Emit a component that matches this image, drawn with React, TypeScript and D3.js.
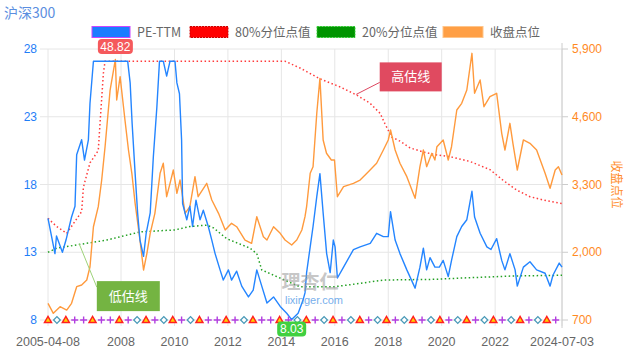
import React from 'react'
import * as d3 from 'd3'

// ---- data ----
const peData: [string, number][] = [
  ['2005-04-08', 15.5], ['2005-07-12', 12.9], ['2005-08-02', 14.2], ['2005-10-22', 13.0],
  ['2005-12-10', 13.9], ['2006-02-24', 15.6], ['2006-04-12', 16.4], ['2006-05-05', 20.2],
  ['2006-07-12', 21.3], ['2006-08-20', 19.8], ['2006-10-12', 21.3], ['2006-11-03', 24.0],
  ['2006-12-20', 27.5], ['2007-03-15', 33.0], ['2007-06-15', 40.0], ['2007-10-16', 48.82],
  ['2008-01-15', 42.0], ['2008-04-01', 27.5], ['2008-05-05', 25.5], ['2008-06-01', 22.5],
  ['2008-07-12', 18.8], ['2008-08-15', 15.9], ['2008-09-16', 13.9], ['2008-11-04', 12.7],
  ['2008-12-10', 14.4], ['2009-02-03', 15.9], ['2009-03-18', 20.05], ['2009-05-05', 23.7],
  ['2009-06-10', 27.4], ['2009-08-01', 28.5], ['2009-09-16', 26.0], ['2009-11-01', 28.2],
  ['2010-01-08', 27.8], ['2010-02-03', 25.5], ['2010-03-10', 24.7], ['2010-04-08', 21.3],
  ['2010-04-22', 16.6], ['2010-06-18', 15.4], ['2010-07-30', 16.4], ['2010-09-05', 14.9],
  ['2010-10-22', 16.85], ['2010-12-16', 15.4], ['2011-01-30', 16.1], ['2011-04-08', 14.9],
  ['2011-05-26', 13.9], ['2011-07-10', 12.9], ['2011-09-16', 11.7], ['2011-10-30', 10.95],
  ['2012-01-08', 11.7], ['2012-02-20', 10.95], ['2012-04-30', 11.6], ['2012-07-08', 10.5],
  ['2012-10-08', 9.7], ['2012-12-12', 10.2], ['2013-01-30', 11.7], ['2013-04-08', 10.5],
  ['2013-06-18', 9.25], ['2013-09-16', 9.7], ['2013-12-16', 9.0], ['2014-03-15', 8.5],
  ['2014-05-22', 8.03], ['2014-08-18', 8.5], ['2014-10-26', 9.5], ['2014-11-20', 10.0],
  ['2014-12-12', 11.5], ['2015-01-30', 13.4], ['2015-03-10', 14.9], ['2015-04-30', 17.1],
  ['2015-06-12', 18.8], ['2015-07-26', 15.9], ['2015-09-12', 12.9], ['2015-10-30', 11.5],
  ['2015-12-12', 13.9], ['2016-01-05', 13.4], ['2016-02-06', 11.1], ['2016-04-30', 11.9],
  ['2016-09-12', 13.2], ['2016-12-12', 13.4], ['2017-04-30', 13.65], ['2017-07-26', 14.4],
  ['2017-10-26', 14.15], ['2018-01-01', 14.15], ['2018-02-01', 16.0], ['2018-04-05', 13.9],
  ['2018-06-10', 12.9], ['2018-09-12', 11.7], ['2019-01-03', 10.35], ['2019-03-10', 11.9],
  ['2019-04-26', 13.3], ['2019-06-10', 11.7], ['2019-07-26', 12.6], ['2019-10-01', 11.9],
  ['2019-12-01', 11.9], ['2020-01-22', 12.4], ['2020-03-31', 11.2], ['2020-05-15', 12.4],
  ['2020-07-26', 14.15], ['2020-10-01', 14.9], ['2020-12-10', 15.4], ['2021-02-18', 17.5],
  ['2021-03-26', 15.6], ['2021-06-10', 14.4], ['2021-09-10', 13.4], ['2021-11-05', 13.2],
  ['2022-01-22', 14.0], ['2022-04-01', 12.4], ['2022-05-15', 11.7], ['2022-07-22', 12.9],
  ['2022-10-01', 11.7], ['2022-10-31', 10.5], ['2023-01-22', 11.9], ['2023-04-22', 12.3],
  ['2023-07-22', 11.7], ['2023-11-15', 11.45], ['2024-01-22', 10.5], ['2024-03-01', 11.3],
  ['2024-05-26', 12.2], ['2024-07-03', 11.9]
]

const closeData: [string, number][] = [
  ['2005-04-08', 1020], ['2005-06-20', 828], ['2005-09-20', 955], ['2005-12-20', 891],
  ['2006-02-24', 1020], ['2006-05-05', 1339], ['2006-07-12', 1371], ['2006-09-20', 1467],
  ['2006-11-03', 1722], ['2006-12-20', 2490], ['2007-02-24', 2874], ['2007-04-12', 3386],
  ['2007-05-28', 4025], ['2007-08-05', 5113], ['2007-10-16', 5700], ['2007-11-03', 4921],
  ['2007-12-20', 5368], ['2008-02-24', 4537], ['2008-04-12', 3962], ['2008-05-28', 3515],
  ['2008-07-12', 2939], ['2008-09-16', 2235], ['2008-11-04', 1659], ['2008-12-20', 1980],
  ['2009-02-03', 2363], ['2009-04-08', 2747], ['2009-06-18', 3515], ['2009-08-01', 3707],
  ['2009-09-16', 3066], ['2009-11-01', 3322], ['2009-12-16', 3578], ['2010-02-03', 3131],
  ['2010-03-18', 3386], ['2010-05-26', 2747], ['2010-07-30', 2874], ['2010-10-08', 3450],
  ['2010-11-20', 3066], ['2011-03-18', 3322], ['2011-05-26', 3002], ['2011-08-26', 2747],
  ['2011-11-25', 2427], ['2012-02-20', 2555], ['2012-04-30', 2490], ['2012-08-22', 2235],
  ['2012-11-20', 2171], ['2013-01-30', 2682], ['2013-04-30', 2299], ['2013-06-18', 2235],
  ['2013-09-16', 2490], ['2013-12-16', 2363], ['2014-02-20', 2235], ['2014-05-22', 2139],
  ['2014-07-30', 2235], ['2014-10-08', 2427], ['2014-11-20', 2682], ['2014-12-12', 2874],
  ['2015-01-30', 3515], ['2015-03-10', 3642], ['2015-04-30', 4666], ['2015-06-12', 5337],
  ['2015-07-26', 4154], ['2015-09-10', 3899], ['2015-11-15', 3770], ['2015-12-28', 3770],
  ['2016-02-06', 3066], ['2016-04-30', 3258], ['2016-09-12', 3322], ['2016-12-12', 3386],
  ['2017-03-15', 3515], ['2017-07-26', 3707], ['2017-10-26', 3962], ['2018-01-01', 4154],
  ['2018-02-01', 4346], ['2018-04-05', 3962], ['2018-06-10', 3707], ['2018-09-12', 3450],
  ['2019-01-03', 3035], ['2019-03-10', 3642], ['2019-04-26', 3962], ['2019-06-10', 3642],
  ['2019-08-20', 3899], ['2019-10-01', 3770], ['2019-10-28', 4025], ['2020-01-22', 4154],
  ['2020-03-31', 3770], ['2020-05-15', 4025], ['2020-07-26', 4730], ['2020-10-01', 4858],
  ['2020-12-10', 5113], ['2021-02-18', 5817], ['2021-03-26', 5050], ['2021-06-10', 5305],
  ['2021-08-01', 4793], ['2021-10-22', 4985], ['2022-01-22', 5050], ['2022-04-01', 4282],
  ['2022-05-15', 3962], ['2022-07-22', 4474], ['2022-09-01', 4090], ['2022-10-31', 3578],
  ['2023-01-22', 4154], ['2023-04-22', 4090], ['2023-07-22', 3962], ['2023-11-15', 3515],
  ['2024-01-22', 3227], ['2024-04-01', 3578], ['2024-05-15', 3642], ['2024-07-03', 3482]
]

const p80Data: [string, number][] = [
  ['2005-04-08', 15.5], ['2005-08-05', 14.9], ['2005-12-20', 14.4], ['2006-03-20', 15.1],
  ['2006-07-12', 16.0], ['2006-08-05', 17.8], ['2006-11-03', 19.6], ['2007-02-24', 20.5],
  ['2007-03-20', 22.5], ['2007-05-05', 26.2], ['2007-05-28', 27.1], ['2014-02-20', 27.1],
  ['2014-09-12', 26.6], ['2015-06-12', 25.8], ['2016-03-15', 25.2], ['2016-10-26', 24.6],
  ['2017-04-26', 24.0], ['2017-09-12', 23.25], ['2017-11-15', 22.5], ['2018-02-18', 21.5],
  ['2018-06-10', 21.2], ['2018-10-26', 20.7], ['2019-04-26', 20.4], ['2019-10-01', 20.2],
  ['2020-04-26', 20.05], ['2021-01-22', 19.7], ['2021-10-22', 19.1], ['2022-04-22', 18.3],
  ['2022-10-20', 17.6], ['2023-04-22', 17.1], ['2023-12-05', 16.8], ['2024-07-03', 16.6]
]

const p20Data: [string, number][] = [
  ['2005-04-08', 13.0], ['2005-08-05', 13.3], ['2006-03-20', 13.5], ['2007-06-20', 13.9],
  ['2008-09-16', 14.5], ['2010-01-08', 14.65], ['2010-07-30', 14.9], ['2011-03-18', 15.0],
  ['2011-06-18', 14.8], ['2011-12-16', 14.0], ['2012-10-30', 13.3], ['2013-01-30', 12.9],
  ['2013-04-08', 11.7], ['2013-10-30', 11.2], ['2014-09-12', 10.45], ['2015-12-12', 10.45],
  ['2016-07-26', 10.6], ['2017-10-26', 10.95], ['2019-09-10', 11.0], ['2020-10-20', 11.1],
  ['2022-09-05', 11.25], ['2024-07-03', 11.3]
]

// event markers along the bottom, one every 4 months from the start date
const markerTypes = [
  'T', 'D', 'T', '+', '+', 'T', '+', '+', 'T', '+', 'D', 'T', '+', 'D', 'T', '+', 'D', 'T',
  '+', '+', 'T', '+', 'D', 'T', '+', '+', 'T', '+', 'D', 'T',
  '+', 'D', 'T', '+', 'D', 'T', '+', 'D', 'T', '+', 'D', 'T', '+', 'D', 'T', '+', 'D', 'T',
  '+', 'D', 'T', '+', 'D', 'T', '+', 'D', 'T', '+'
]

const leftTicks = [8, 13, 18, 23, 28]
const rightTicks = [700, 2000, 3300, 4600, 5900]
const xTicks: [string, string][] = [
  ['2005-04-08', '2005-04-08'], ['2008-01-01', '2008'], ['2010-01-01', '2010'],
  ['2012-01-01', '2012'], ['2014-01-01', '2014'], ['2016-01-01', '2016'],
  ['2018-01-01', '2018'], ['2020-01-01', '2020'], ['2022-01-01', '2022'],
  ['2024-07-03', '2024-07-03']
]
const legendItems = ['PE-TTM', '80%分位点值', '20%分位点值', '收盘点位']
const peCap = 27.1
const highNote = { date: '2016-10-20', value: 24.65, text: '高估线' }
const lowNote = { date: '2006-06-10', value: 13.6, text: '低估线' }

const parse = d3.timeParse('%Y-%m-%d')
const W = 628, H = 354
const left = 48, right = 562, top = 49, bottom = 320
const CJK = '"Noto Sans CJK SC", sans-serif'
const LAT = '"Liberation Sans", Arial, sans-serif'

const App = () => {
  const toPts = (arr: [string, number][]) => arr.map(d => ({ date: parse(d[0]) as Date, value: d[1] }))
  const pe = toPts(peData)
  const close = toPts(closeData)
  const p80 = toPts(p80Data)
  const p20 = toPts(p20Data)

  const start = parse('2005-04-08') as Date
  const end = parse('2024-07-03') as Date
  const x = d3.scaleTime().domain([start, end]).range([left, right])
  const yL = d3.scaleLinear().domain([8, 28]).range([bottom, top])
  const yR = d3.scaleLinear().domain([700, 5900]).range([bottom, top])

  const lineL = d3.line<{ date: Date, value: number }>()
    .x(d => x(d.date)).y(d => yL(Math.min(d.value, peCap)))
  const lineR = d3.line<{ date: Date, value: number }>()
    .x(d => x(d.date)).y(d => yR(d.value))

  const maxPt = pe.reduce((a, b) => (b.value > a.value ? b : a))
  const minPt = pe.reduce((a, b) => (b.value < a.value ? b : a))

  const hx = x(parse(highNote.date) as Date), hy = yL(highNote.value)
  const lx = x(parse(lowNote.date) as Date), ly = yL(lowNote.value)

  const tri = d3.symbol().type(d3.symbolTriangle).size(22)
  const dia = d3.symbol().type(d3.symbolSquare).size(22)

  return (
    <svg width={W} height={H} style={{ position: 'absolute', left: 0, top: 0, background: '#fff' }}>
      {/* title */}
      <text x={4} y={18} fontSize={14} fill="#5b8ee0" fontFamily={CJK}>沪深300</text>

      {/* legend */}
      <g fontFamily={CJK} fontSize={12.5} fill="#666">
        <rect x={92} y={26.5} width={38} height={11} fill="#1a7cff" stroke="#cc44ff" strokeWidth={1} />
        <text x={137} y={36.5}>{legendItems[0]}</text>
        <rect x={190} y={26.5} width={38} height={11} fill="#ff0000" stroke="#c00" strokeWidth={1} strokeDasharray="2,1" />
        <text x={235} y={36.5}>{legendItems[1]}</text>
        <rect x={317} y={26.5} width={38} height={11} fill="#009400" stroke="#3c3" strokeWidth={1} strokeDasharray="2,1" />
        <text x={362} y={36.5}>{legendItems[2]}</text>
        <rect x={443} y={26.5} width={40} height={11} fill="#ff9f45" stroke="#ffc58a" strokeWidth={1} />
        <text x={490} y={36.5}>{legendItems[3]}</text>
      </g>

      {/* grid */}
      <g stroke="#e6e6e6" strokeWidth={1}>
        {leftTicks.map(t => (
          <line key={'h' + t} x1={40} x2={right} y1={yL(t)} y2={yL(t)} />
        ))}
        {xTicks.map(t => (
          <line key={'v' + t[0]} x1={x(parse(t[0]) as Date)} x2={x(parse(t[0]) as Date)} y1={top} y2={bottom + 6} />
        ))}
      </g>
      <line x1={right} x2={right} y1={top - 6} y2={bottom + 8} stroke="#ccc" />
      {rightTicks.map(t => (
        <line key={'rt' + t} x1={right} x2={right + 6} y1={yR(t)} y2={yR(t)} stroke="#ccc" />
      ))}

      {/* axis labels */}
      <g fontFamily={LAT} fontSize={12} fill="#1f7ef7" textAnchor="end">
        {leftTicks.map(t => (
          <text key={'l' + t} x={37} y={yL(t)} dy="0.35em">{t}</text>
        ))}
      </g>
      <g fontFamily={LAT} fontSize={12} fill="#ff8a1f">
        {rightTicks.map(t => (
          <text key={'r' + t} x={572} y={yR(t)} dy="0.35em">{d3.format(',')(t)}</text>
        ))}
      </g>
      <g fontFamily={LAT} fontSize={12.5} fill="#666" textAnchor="middle">
        {xTicks.map(t => (
          <text key={'x' + t[0]} x={x(parse(t[0]) as Date)} y={346}>{t[1]}</text>
        ))}
      </g>
      <text transform={`translate(612,${(top + bottom) / 2}) rotate(90)`} textAnchor="middle" fontFamily={CJK}
        fontSize={12} fill="#ff8a1f">收盘点位</text>

      {/* series */}
      <path d={lineL(p20) || ''} fill="none" stroke="#22a022" strokeWidth={1.5} strokeDasharray="1.5,2.5" />
      <path d={lineL(p80) || ''} fill="none" stroke="#ff3b3b" strokeWidth={1.5} strokeDasharray="1.5,2.5" />
      <path d={lineR(close) || ''} fill="none" stroke="#ff9a3d" strokeWidth={1.4} strokeLinejoin="round" />
      <path d={lineL(pe) || ''} fill="none" stroke="#2485ff" strokeWidth={1.4} strokeLinejoin="round" />

      {/* watermark */}
      <text x={310} y={289} textAnchor="middle" fontFamily={CJK} fontSize={19} fontWeight={700}
        fill="#9a9a9a" opacity={0.55}>理杏仁</text>
      <text x={314} y={304} textAnchor="middle" fontFamily={LAT} fontSize={11} fill="#4a95e6" opacity={0.75}>lixinger.com</text>

      {/* event markers */}
      {markerTypes.map((m, i) => {
        const cx = x(d3.timeMonth.offset(start, i * 4))
        if (m === 'T') {
          return <path key={i} d={tri() || ''} transform={`translate(${cx},${bottom + 0.5})`}
            fill="#ffd400" stroke="#ff2020" strokeWidth={1.4} />
        }
        if (m === 'D') {
          return <path key={i} d={dia() || ''} transform={`translate(${cx},${bottom}) rotate(45)`}
            fill="#fff" stroke="#4a9ab8" strokeWidth={1.3} />
        }
        return <path key={i} d={`M${cx - 3.5},${bottom}h7M${cx},${bottom - 3.5}v7`}
          stroke="#b23ee0" strokeWidth={1.4} />
      })}

      {/* max / min labels */}
      <g fontFamily={LAT} fontSize={12} textAnchor="middle">
        <rect x={x(maxPt.date) - 17.5} y={39} width={35} height={15} rx={4} fill="#f5595c" />
        <text x={x(maxPt.date)} y={50.5} fill="#fff">{maxPt.value}</text>
        <rect x={x(minPt.date) - 14.5} y={321.5} width={29} height={15} rx={4} fill="#40d040" />
        <text x={x(minPt.date)} y={333} fill="#fff">{minPt.value}</text>
      </g>

      {/* annotations */}
      <line x1={hx} y1={hy} x2={hx + 23.5} y2={hy - 12} stroke="#dd4760" strokeWidth={1} />
      <rect x={hx + 23.5} y={hy - 32} width={62} height={29} fill="#e04a60" />
      <text x={hx + 54.5} y={hy - 13} textAnchor="middle" fontFamily={CJK} fontSize={13} fill="#fff">{highNote.text}</text>

      <line x1={lx} y1={ly} x2={lx + 17.5} y2={ly + 43} stroke="#9ed27a" strokeWidth={1} />
      <rect x={lx + 17.5} y={ly + 37} width={63} height={30} fill="#74b442" />
      <text x={lx + 49} y={ly + 56.5} textAnchor="middle" fontFamily={CJK} fontSize={13} fill="#fff">{lowNote.text}</text>
    </svg>
  )
}

export default App
